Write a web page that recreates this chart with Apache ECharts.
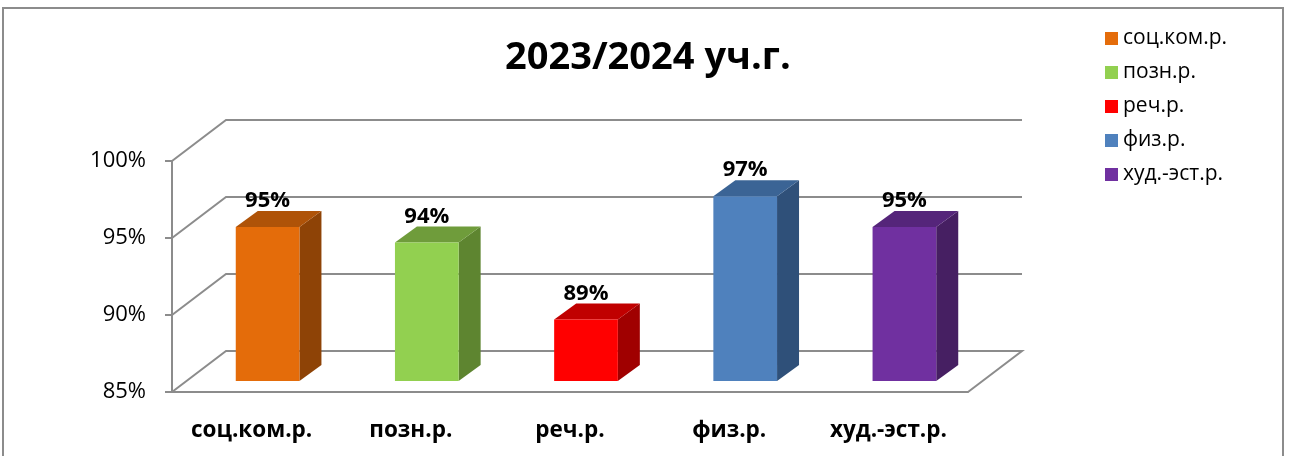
<!DOCTYPE html>
<html>
<head>
<meta charset="utf-8">
<script src="https://cdn.jsdelivr.net/npm/echarts@6/dist/echarts.min.js"></script>
<style>
  html, body { margin: 0; padding: 0; background: #fff; }
  #chart { width: 1289px; height: 456px; }
</style>
</head>
<body>
<div id="chart"></div>
<script>
// chart data
const categories = ['соц.ком.р.', 'позн.р.', 'реч.р.', 'физ.р.', 'худ.-эст.р.']
const values = [95, 94, 89, 97, 95]
const yTicks = [85, 90, 95, 100]
const frontColors = ['#E46C0A', '#92D050', '#FF0000', '#4F81BD', '#7030A0']
const topColors = ['#AF5308', '#6F9C3B', '#C00000', '#3B6495', '#55257A']
const sideColors = ['#8E4306', '#5E8530', '#A00000', '#2F5079', '#461F62']

const FONT = '"Open Sans", "Noto Sans", sans-serif'
const LINE = '#8C8C8C'
// wall depth (px) and bar placement in depth
const WALL_DX = 54, WALL_DY = 41
const BAR_OX = 16, BAR_OY = 11
const BAR_DX = 22, BAR_DY = 16

const chart = echarts.init(document.getElementById('chart'))

// back wall + side wall + floor lines
const wallSeries = {
    type: 'custom',
    name: 'walls',
    z: 1,
    silent: true,
    data: yTicks.map(v => [0, v]),
    renderItem: function (params, api) {
        const v = api.value(1)
        const band = api.size([1, 0])[0]
        const p = api.coord([0, v])
        const x0 = p[0] - band / 2
        const x1 = api.coord([categories.length - 1, v])[0] + band / 2
        const y = p[1]
        const pts = [[x0, y], [x0 + WALL_DX, y - WALL_DY], [x1 + WALL_DX, y - WALL_DY]]
        if (v === yTicks[0]) pts.push([x1, y])
        return {
            type: 'polyline',
            shape: { points: pts },
            style: { stroke: LINE, lineWidth: 2, fill: null }
        }
    }
}

// one 3D bar series per category so the legend lists them
const barSeries = categories.map((name, i) => ({
    type: 'custom',
    name: name,
    z: 3,
    itemStyle: { color: frontColors[i] },
    data: [[i, values[i]]],
    renderItem: function (params, api) {
        const top = api.coord([api.value(0), api.value(1)])
        const base = api.coord([api.value(0), yTicks[0]])
        const band = api.size([1, 0])[0]
        const w = band * 0.4
        const left = top[0] + BAR_OX - w / 2
        const right = left + w
        const yT = top[1] - BAR_OY
        const yB = base[1] - BAR_OY
        return {
            type: 'group',
            children: [
                {
                    type: 'polygon',
                    shape: { points: [[right, yT], [right + BAR_DX, yT - BAR_DY], [right + BAR_DX, yB - BAR_DY], [right, yB]] },
                    style: { fill: sideColors[i] }
                },
                {
                    type: 'polygon',
                    shape: { points: [[left, yT], [right, yT], [right + BAR_DX, yT - BAR_DY], [left + BAR_DX, yT - BAR_DY]] },
                    style: { fill: topColors[i] }
                },
                {
                    type: 'rect',
                    shape: { x: left, y: yT, width: w, height: yB - yT },
                    style: { fill: frontColors[i] }
                },
                {
                    type: 'text',
                    z2: 10,
                    style: {
                        x: (left + right) / 2,
                        y: yT - 26,
                        text: api.value(1) + '%',
                        align: 'center',
                        verticalAlign: 'middle',
                        fontSize: 22,
                        fontWeight: 'bold',
                        fontFamily: FONT,
                        fill: '#000'
                    }
                }
            ]
        }
    }
}))

const options = {
    backgroundColor: '#fff',
    animation: false,
    title: {
        text: '2023/2024 уч.г.',
        left: 505,
        top: 39,
        padding: 0,
        textStyle: { fontSize: 38, fontWeight: 'bold', fontFamily: FONT, color: '#000' }
    },
    legend: {
        orient: 'vertical',
        left: 1100,
        top: 23,
        itemWidth: 13,
        itemHeight: 13,
        itemGap: 13,
        icon: 'rect',
        data: categories,
        textStyle: { fontSize: 21, fontFamily: FONT, color: '#000' }
    },
    graphic: [{
        type: 'rect',
        shape: { x: 3, y: 8, width: 1280, height: 470 },
        style: { fill: null, stroke: LINE, lineWidth: 2 },
        z: 0
    }],
    grid: { left: 172, top: 161, width: 796, height: 231 },
    xAxis: {
        type: 'category',
        data: categories,
        axisLine: { lineStyle: { color: LINE, width: 2 } },
        axisTick: { length: 8, lineStyle: { color: LINE, width: 2 } },
        axisLabel: { margin: 27, fontSize: 22.5, fontWeight: 'bold', fontFamily: FONT, color: '#000' },
        splitLine: { show: false }
    },
    yAxis: {
        type: 'value',
        min: 85,
        max: 100,
        interval: 5,
        axisLine: { show: true, lineStyle: { color: LINE, width: 2 } },
        axisTick: { show: true, length: 7, lineStyle: { color: LINE, width: 2 } },
        axisLabel: { margin: 26, fontSize: 22, fontFamily: FONT, color: '#000', formatter: '{value}%' },
        splitLine: { show: false }
    },
    series: [wallSeries].concat(barSeries)
}
chart.setOption(options)
</script>
</body>
</html>
